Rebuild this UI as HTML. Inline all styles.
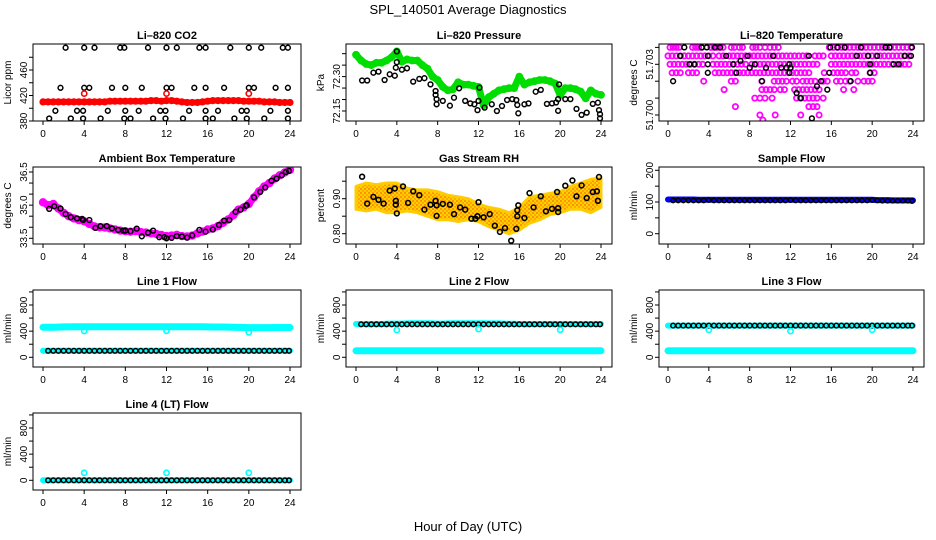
<!DOCTYPE html>
<html><head><meta charset="utf-8"><title>SPL_140501 Average Diagnostics</title>
<style>
html,body{margin:0;padding:0;background:#fff;}
svg{display:block;font-family:"Liberation Sans",Arial,sans-serif;}
</style></head>
<body>
<svg id="chart" width="936" height="540" viewBox="0 0 936 540" xmlns="http://www.w3.org/2000/svg">
<defs>
<pattern id="rhpat" width="4" height="4" patternUnits="userSpaceOnUse">
<rect width="4" height="4" fill="#ffd000"/>
<circle cx="1" cy="1" r="1" fill="#ff7f00"/>
<circle cx="3" cy="3" r="1" fill="#ff9900"/>
</pattern>
</defs>
<rect width="936" height="540" fill="#fff"/>
<text x="468" y="14" text-anchor="middle" font-size="13">SPL_140501  Average Diagnostics</text>
<text x="468" y="531" text-anchor="middle" font-size="13">Hour of Day (UTC)</text>
<g id="plots"></g>
</svg>
<script>
// ---- common time axis (half-hourly) ----
const halfHours = [0,0.5,1,1.5,2,2.5,3,3.5,4,4.5,5,5.5,6,6.5,7,7.5,8,8.5,9,9.5,10,10.5,11,11.5,12,12.5,13,13.5,14,14.5,15,15.5,16,16.5,17,17.5,18,18.5,19,19.5,20,20.5,21,21.5,22,22.5,23,23.5,24];
const blackHours = [0.5,1,1.5,2,2.5,3,3.5,4,4.5,5,5.5,6,6.5,7,7.5,8,8.5,9,9.5,10,10.5,11,11.5,12,12.5,13,13.5,14,14.5,15,15.5,16,16.5,17,17.5,18,18.5,19,19.5,20,20.5,21,21.5,22,22.5,23,23.5,23.9];
const hourTicks = [0,4,8,12,16,20,24];
const calHours = [4,12,20];
const rhHours = [0,1,2,3,4,5,6,7,8,9,10,11,12,13,14,15,16,17,18,19,20,21,22,23,24];

// ---- CO2 ----
const co2Red = [410,410,410,410,410,410,410,410,410,410,410,410,410,411,411,411,411,411,411,411,411,412,412,411,412,412,411,410,409,409,409,410,411,412,412,412,412,412,412,411,411,411,411,410,410,410,409,409,409];
const co2RedCal = [423,423,423];
const co2BlkT = [2.2,4,5,7.5,7.9,10.2,12,13,15.2,15.8,18.2,20,21.2,23.3,23.8, 1.7,4,4.5,6.7,8,9.6,12,12.5,14.7,15.8,17.6,20,20.5,22.6,23.8, 1.2,3.3,3.9,6.3,8,9.3,11.4,11.9,14.2,15.8,17,19.3,19.8,22.1,23.8, 0.6,2.7,3.9,5.6,7.9,8.5,10.7,11.9,13.6,15.8,16.5,18.6,19.8,21.5,23.8];
const co2BlkV = [495,495,495,495,495,495,495,495,495,495,495,495,495,495,495, 432,432,432,432,432,432,432,432,432,432,432,432,432,432,432, 396,396,396,396,396,396,396,396,396,396,396,396,396,396,396, 384,384,384,384,384,384,384,384,384,384,384,384,384,384,384];
const co2Ticks = [380,400,420,440,460,480];
const co2Labels = [380,420,460];

// ---- Pressure ----
const presGreen = [72.395,72.37,72.355,72.35,72.36,72.36,72.37,72.385,72.41,72.365,72.375,72.37,72.37,72.35,72.335,72.30,72.285,72.255,72.24,72.245,72.275,72.265,72.265,72.26,72.255,72.175,72.21,72.225,72.24,72.245,72.25,72.25,72.30,72.265,72.275,72.28,72.285,72.285,72.28,72.27,72.22,72.25,72.25,72.245,72.235,72.205,72.24,72.225,72.22];
const presBlkT = [0.6,1.1,1.7,2.2,2.8,3.3,3.8,3.9,4.0,4.0,4.5,5,5.6,6.2,6.7,7.3,7.8,7.8,7.9,7.9,8.5,9.2,9.6,10.1,10.7,11.2,11.6,11.9,12,12.1,12.6,13.3,13.8,14.3,14.8,15.3,15.7,15.8,15.9,16.5,16.9,17.6,18.1,18.7,19.2,19.6,19.8,19.8,19.9,20.5,21,21.6,22.1,22.6,23.2,23.7,23.8,23.9,23.9];
const presBlkV = [72.283,72.283,72.317,72.322,72.285,72.31,72.304,72.339,72.363,72.41,72.33,72.336,72.278,72.29,72.293,72.266,72.237,72.22,72.202,72.179,72.194,72.173,72.208,72.249,72.194,72.183,72.179,72.154,72.194,72.252,72.165,72.179,72.15,72.172,72.198,72.202,72.198,72.176,72.14,72.179,72.183,72.234,72.242,72.181,72.183,72.187,72.151,72.202,72.266,72.202,72.202,72.159,72.133,72.143,72.181,72.186,72.154,72.136,72.118];
const presTicks = [72.15,72.20,72.25,72.30,72.35,72.40];
const presLabels = [72.15,72.30];

// ---- Li-820 Temperature ----
const tempMagLevels = [51.704,51.7035,51.703,51.7025,51.702,51.7015,51.701,51.7005,51.700,51.6997];
const tempMagTimes = [
 [0.2,0.5,0.8,1.1,2.4,2.7,3,3.3,4.2,4.5,4.8,5.1,5.4,6.2,6.5,7,7.3,8.3,8.6,9,9.5,10,10.4,10.8,15.8,16.2,16.6,17,17.4,17.8,18.2,18.6,19,19.4,19.8,20.2,20.6,21,21.4,21.8,22.2,22.6,23,23.4,23.8],
 [0,0.4,0.8,1.2,1.6,2,2.4,2.8,3.2,3.6,4,4.4,5,5.4,6,6.4,6.8,7.2,7.6,8,8.4,8.8,9.2,9.6,10,10.4,10.8,11.2,11.6,12,12.4,12.8,13.2,13.6,14.4,14.8,15.2,16,16.4,16.8,17.2,17.6,18,18.4,18.8,19.2,19.6,20,20.4,20.8,21.2,21.6,22,22.4,22.8,23.2,23.6],
 [0.2,0.6,1,1.4,1.8,2.2,2.6,3,3.4,4.4,4.8,5.2,5.6,6,6.4,6.8,7.2,7.6,8.2,8.6,9,9.4,9.8,10.2,10.6,11,11.4,11.8,12.2,12.6,13,13.4,13.8,14.2,14.6,16,16.4,16.8,17.2,17.6,18,18.4,18.8,19.2,19.6,20,20.4,20.8,21.2,21.6,22,22.4,22.8,23.2,23.6],
 [0.4,0.8,1.2,2,2.4,2.8,4.6,5,5.4,5.8,6.2,6.6,7,7.4,7.8,8.2,8.6,9,9.4,9.8,10.2,10.6,11,11.4,11.8,12.2,12.6,13,13.4,13.8,15.3,16.2,16.6,17,17.4,18,18.4,19.8,20.2],
 [3.5,6.2,6.6,9.2,10.4,10.8,11.2,11.6,12.2,12.6,13.2,13.6,14,14.4,15.2,15.6,16.5,16.9,17.4,17.8,18.6,19.2,19.6,20],
 [5.5,9.2,9.6,10,10.4,11,11.4,12.4,12.8,13.2,13.6,14,14.4,14.8,17.2,18.2],
 [8.5,9,9.5,10.2,12.6,13,13.4,13.8,14.2,14.6,15.2],
 [6.6,13.8,14.2,14.6],
 [9,10.5,13,14.8],
 [9.3]
];
const tempBlkT = [0.5,1.2,1.6,2.1,2.6,3.3,3.8,3.9,3.9,3.9,4.6,5.1,5.7,6.4,6.7,7.1,7.8,8.0,8.5,9.2,9.6,10.3,11.1,11.6,11.9,11.9,12.0,12.6,13.0,13.8,14.1,14.6,15.0,15.6,15.8,15.9,16.6,17.3,17.9,18.5,18.9,19.6,19.8,19.8,20.5,21.3,21.7,22.1,22.6,23.2,23.8,23.9];
const tempBlkV = [51.702,51.7035,51.704,51.703,51.703,51.704,51.704,51.7035,51.703,51.7025,51.704,51.704,51.7035,51.703,51.7025,51.7032,51.7035,51.7028,51.703,51.702,51.7028,51.7035,51.7028,51.7028,51.703,51.7025,51.7028,51.7013,51.701,51.7035,51.6998,51.7017,51.702,51.7015,51.7025,51.704,51.704,51.704,51.702,51.7035,51.704,51.7035,51.703,51.7025,51.7035,51.704,51.704,51.703,51.703,51.7035,51.7035,51.704];
const tempTicks = [51.700,51.701,51.702,51.703,51.704];
const tempLabels = [51.700,51.703];

// ---- Ambient Box Temperature ----
const ambMag = [35.13,35.0,35.05,34.85,34.65,34.5,34.4,34.32,34.27,34.15,34.04,34.0,33.99,33.95,33.9,33.85,33.82,33.8,33.82,33.78,33.76,33.72,33.7,33.65,33.6,33.62,33.66,33.6,33.58,33.62,33.72,33.8,33.9,33.95,34.05,34.2,34.35,34.55,34.8,34.9,35.05,35.35,35.62,35.85,36.0,36.2,36.35,36.48,36.6];
const ambBlkT = [0.6,1.1,1.7,2.2,2.7,3.3,3.8,3.9,4.5,5.1,5.6,6.2,6.7,7.3,7.8,8,8.5,9.1,9.6,10.2,10.7,11.3,11.8,12,12.5,13,13.5,14,14.5,15.2,15.8,16.5,17.1,17.6,18.1,18.7,19.2,19.7,19.8,20.5,21.1,21.6,22.2,22.7,23.2,23.6,23.9];
const ambBlkV = [34.83,34.95,34.85,34.6,34.45,34.4,34.38,34.33,34.33,33.97,34.05,34.05,33.95,33.88,33.85,33.85,33.82,33.94,33.59,33.75,33.85,33.55,33.55,33.5,33.52,33.6,33.58,33.53,33.63,33.88,33.8,33.9,34.1,34.3,34.33,34.7,34.8,34.97,35.0,35.35,35.6,35.8,36.1,36.2,36.35,36.5,36.55];
const ambTicks = [33.5,34.0,34.5,35.0,35.5,36.0,36.5];
const ambLabels = [33.5,35.0,36.5];

// ---- Gas Stream RH ----
const rhLo = [0.87,0.865,0.87,0.86,0.86,0.865,0.86,0.85,0.84,0.84,0.835,0.84,0.835,0.82,0.81,0.80,0.81,0.83,0.84,0.855,0.86,0.87,0.87,0.86,0.875];
const rhHi = [0.935,0.945,0.94,0.945,0.945,0.93,0.925,0.925,0.92,0.91,0.905,0.9,0.885,0.875,0.87,0.86,0.875,0.905,0.91,0.915,0.92,0.935,0.945,0.955,0.96];
const rhBlkT = [0.6,1.1,1.7,2.2,2.7,3.3,3.8,3.9,3.9,4,4.6,5.1,5.6,6.2,6.7,7.3,7.8,7.9,7.9,8.5,9.2,9.6,10.2,10.7,11.3,11.7,11.9,12,12.5,13.1,13.6,14.1,14.6,15.2,15.7,15.8,15.8,15.9,16.5,17,17.4,18.1,18.6,19.2,19.7,19.8,19.8,20.5,21.2,21.6,22.1,22.6,23.2,23.6,23.7,23.8];
const rhBlkV = [0.963,0.886,0.905,0.897,0.886,0.923,0.929,0.894,0.883,0.858,0.935,0.888,0.921,0.91,0.869,0.883,0.894,0.881,0.851,0.885,0.883,0.856,0.875,0.869,0.843,0.843,0.85,0.89,0.847,0.856,0.823,0.805,0.816,0.78,0.814,0.85,0.867,0.881,0.845,0.916,0.875,0.907,0.864,0.871,0.919,0.873,0.862,0.937,0.952,0.907,0.938,0.902,0.919,0.921,0.894,0.962];
const rhTicks = [0.80,0.85,0.90,0.95];
const rhLabels = [0.80,0.90];

// ---- Sample Flow ----
const sampleBlue = [108,108,108,108,108,108,107,107,107,107,107,107,107,107,107,107,107,107,107,107,107,107,107,107,107,107,107,107,107,107,107,107,107,107,107,107,107,107,107,107,107,106,106,106,105,105,105,105,105];
const sampleBlk = [105,105,105,105,105,105,105,106,105,105,105,105,105,105,105,105,105,105,105,105,105,105,105,106,105,105,105,105,105,105,105,105,105,105,105,105,105,105,105,106,105,104,104,104,104,104,104,103];
const sampleTicks = [0,50,100,150,200];
const sampleLabels = [0,100,200];

// ---- Line flows ----
const flowTicks = [0,200,400,600,800,1000];
const flowLabels = [0,400,800];
const line1CyanHi = [460,460,460,462,465,465,466,466,466,466,466,466,466,466,466,466,467,467,467,467,467,467,467,467,467,467,467,467,467,467,467,467,465,464,464,464,462,460,458,456,455,455,455,455,455,456,456,456,456];
const line1CyanLo = [100,100,100,100,100,100,100,100,100,100,100,100,100,100,100,100,100,100,100,100,100,100,100,100,100,100,100,100,100,100,100,100,100,100,100,100,100,100,100,100,100,100,100,100,100,100,100,100,100];
const line1Blk = [100,100,100,100,100,100,100,100,100,100,100,100,100,100,100,100,100,100,100,100,100,100,100,100,100,100,100,100,100,100,100,100,100,100,100,100,100,100,100,100,100,100,100,100,100,100,100,100];
const line1Cal = [403,405,382];
const line2CyanHi = [510,508,508,508,510,510,512,515,515,515,518,520,520,520,520,518,515,515,518,520,520,520,520,520,520,520,518,518,518,515,512,512,510,510,510,510,510,510,510,510,510,510,510,510,510,510,510,510,510];
const line2CyanLo = [100,100,100,100,100,100,100,100,100,100,100,100,100,100,100,100,100,100,100,100,100,100,100,100,100,100,100,100,100,100,100,100,100,100,100,100,100,100,100,100,100,100,100,100,100,100,100,100,100];
const line2Blk = [505,505,505,505,505,505,505,505,505,505,505,505,505,505,505,505,505,505,505,505,505,505,505,505,505,505,505,505,505,505,505,505,505,505,505,505,505,505,505,505,505,505,505,505,505,505,505,505];
const line2Cal = [418,432,420];
const line3CyanHi = [485,485,485,485,485,485,485,485,485,485,485,485,485,485,485,485,485,485,485,485,485,485,485,485,485,485,485,485,485,485,485,485,485,485,485,485,485,485,485,485,485,485,485,485,485,485,485,485,485];
const line3CyanLo = [100,100,100,100,100,100,100,100,100,100,100,100,100,100,100,100,100,100,100,100,100,100,100,100,100,100,100,100,100,100,100,100,100,100,100,100,100,100,100,100,100,100,100,100,100,100,100,100,100];
const line3Blk = [485,485,485,485,485,485,485,485,485,485,485,485,485,485,485,485,485,485,485,485,485,485,485,485,485,485,485,485,485,485,485,485,485,485,485,485,485,485,485,485,485,485,485,485,485,485,485,485];
const line3Cal = [420,400,420];
const line4Cyan = [0,0,0,0,0,0,0,0,0,0,0,0,0,0,0,0,0,0,0,0,0,0,0,0,0,0,0,0,0,0,0,0,0,0,0,0,0,0,0,0,0,0,0,0,0,0,0,0,0];
const line4Blk = [0,0,0,0,0,0,0,0,0,0,0,0,0,0,0,0,0,0,0,0,0,0,0,0,0,0,0,0,0,0,0,0,0,0,0,0,0,0,0,0,0,0,0,0,0,0,0,0];
const line4Cal = [114,114,114];

// ---- layout ----
const NS = 'http://www.w3.org/2000/svg';
const cols = [{l:33,r:301,x0:43,x24:290},{l:346,r:612,x0:356,x24:601},{l:659,r:924,x0:668,x24:913}];
const rowTop = [44,167,290,413];
const boxH = 77;
const root = document.getElementById('plots');

function el(tag, attrs, parent){
  const e = document.createElementNS(NS, tag);
  for (const k in attrs) e.setAttribute(k, attrs[k]);
  (parent||root).appendChild(e);
  return e;
}

function makePanel(ci, ri, title, ylab, va, ya, vb, yb, ticks, labels, fmt, slug){
  const c = cols[ci];
  const top = rowTop[ri], bot = top + boxH;
  const g = el('g', {});
  
  
  const xs = h => c.x0 + h * (c.x24 - c.x0) / 24;
  const ys = v => ya + (v - va) * (yb - ya) / (vb - va);
  const box = el('rect', {x:c.l, y:top, width:c.r-c.l, height:boxH, fill:'none', stroke:'#000', 'stroke-width':1}, g);
  
  
  const t = el('text', {x:(c.l+c.r)/2, y:top-5, 'text-anchor':'middle', 'font-size':11, 'font-weight':'bold'}, g);
  t.textContent = title;
  
  
  const yl = el('text', {x:0, y:0, 'text-anchor':'middle', 'font-size':10, transform:'translate('+(c.l-22)+','+((top+bot)/2)+') rotate(-90)'}, g);
  yl.textContent = ylab;
  
  
  const xa = el('g', {}, g);
  
  
  el('line', {x1:xs(hourTicks[0]), x2:xs(hourTicks[hourTicks.length-1]), y1:bot, y2:bot, stroke:'#000'}, xa);
  hourTicks.forEach(h => {
    el('line', {x1:xs(h), x2:xs(h), y1:bot, y2:bot+4, stroke:'#000'}, xa);
    const tl = el('text', {x:xs(h), y:bot+16, 'text-anchor':'middle', 'font-size':10}, xa);
    tl.textContent = h;
    
    
  });
  const ya_ = el('g', {}, g);
  
  
  el('line', {x1:c.l, x2:c.l, y1:ys(ticks[0]), y2:ys(ticks[ticks.length-1]), stroke:'#000'}, ya_);
  ticks.forEach(v => el('line', {x1:c.l-4, x2:c.l, y1:ys(v), y2:ys(v), stroke:'#000'}, ya_));
  labels.forEach(v => {
    const tl = el('text', {x:0, y:0, 'text-anchor':'middle', 'font-size':10, transform:'translate('+(c.l-6)+','+ys(v)+') rotate(-90)'}, ya_);
    tl.textContent = fmt(v);
    
    
  });
  const clipId = 'clip-' + slug;
  const cp = el('clipPath', {id:clipId}, g);
  el('rect', {x:c.l+0.5, y:top+0.5, width:c.r-c.l-1, height:boxH-1}, cp);
  const data = el('g', {'clip-path':'url(#'+clipId+')'}, g);
  
  
  return {g:data, xs, ys};
}

function points(p, ts, vs, color, r, sw, name){
  const grp = el('g', {fill:'none', stroke:color, 'stroke-width':sw}, p.g);
  
  
  const n = Math.min(ts.length, vs.length);
  for (let i = 0; i < n; i++) {
    const c = el('circle', {cx:p.xs(ts[i]).toFixed(1), cy:p.ys(vs[i]).toFixed(1), r:r}, grp);
    
    
  }
}

// dense band drawn through the same data (many overlapping samples)
function band(p, ts, vs, color, w, name){
  const n = Math.min(ts.length, vs.length);
  let pts = '';
  for (let i = 0; i < n; i++) pts += p.xs(ts[i]).toFixed(1) + ',' + p.ys(vs[i]).toFixed(1) + ' ';
  const pl = el('polyline', {points:pts, fill:'none', stroke:color, 'stroke-width':w, 'stroke-linejoin':'round', 'stroke-linecap':'round'}, p.g);
  
  
}

const f0 = v => String(v);
const f1 = v => v.toFixed(1);
const f2 = v => v.toFixed(2);
const f3 = v => v.toFixed(3);

// CO2
let p = makePanel(0,0,'Li\u2013820 CO2','Licor ppm',380,121,460,70,co2Ticks,co2Labels,f0,'co2');
points(p, co2BlkT, co2BlkV, '#000', 2.4, 1.5, 'co2-black-series');
band(p, halfHours, co2Red, '#ff0000', 6, 'co2-red-band');
points(p, halfHours, co2Red, '#ff0000', 2.6, 2, 'co2-red-series');
points(p, calHours, co2RedCal, '#ff0000', 2.6, 1.6, 'co2-red-cal');

// Pressure
p = makePanel(1,0,'Li\u2013820 Pressure','kPa',72.15,111,72.30,76.6,presTicks,presLabels,f2,'pressure');
band(p, halfHours, presGreen, '#00dd00', 7, 'pressure-green-band');
points(p, halfHours, presGreen, '#00dd00', 2.8, 2.2, 'pressure-green-series');
points(p, presBlkT, presBlkV, '#000', 2.4, 1.5, 'pressure-black-series');

// Temperature
p = makePanel(2,0,'Li\u2013820 Temperature','degrees C',51.700,115,51.703,64.3,tempTicks,tempLabels,f3,'li820-temp');
tempMagLevels.forEach((lv, i) => {
  const ts = tempMagTimes[i];
  points(p, ts, ts.map(() => lv), '#ff00ff', 2.6, 1.8, 'temp-magenta-level');
});
points(p, tempBlkT, tempBlkV, '#000', 2.4, 1.5, 'temp-black-series');

// Ambient
p = makePanel(0,1,'Ambient Box Temperature','degrees C',33.5,238.3,36.5,172,ambTicks,ambLabels,f1,'ambient-temp');
band(p, halfHours, ambMag, '#ff00ff', 7, 'ambient-magenta-band');
points(p, halfHours, ambMag, '#ff00ff', 3, 2.4, 'ambient-magenta-series');
points(p, ambBlkT, ambBlkV, '#000', 2.4, 1.5, 'ambient-black-series');

// RH
p = makePanel(1,1,'Gas Stream RH','percent',0.80,233.7,0.90,198.7,rhTicks,rhLabels,f2,'rh');
{
  let d = '';
  rhHours.forEach((h,i) => { d += (i ? 'L' : 'M') + p.xs(h).toFixed(1) + ',' + p.ys(rhHi[i]).toFixed(1); });
  for (let i = rhHours.length-1; i >= 0; i--) d += 'L' + p.xs(rhHours[i]).toFixed(1) + ',' + p.ys(rhLo[i]).toFixed(1);
  const bd = el('path', {d:d+'Z', fill:'url(#rhpat)', stroke:'#ffcc00', 'stroke-width':3, 'stroke-linejoin':'round'}, p.g);
  
  
}
points(p, rhBlkT, rhBlkV, '#000', 2.4, 1.6, 'rh-black-series');

// Sample Flow
p = makePanel(2,1,'Sample Flow','ml/min',0,233.7,200,170.3,sampleTicks,sampleLabels,f0,'sample-flow');
band(p, halfHours, sampleBlue, '#0000ff', 6, 'sample-blue-band');
points(p, blackHours, sampleBlk, '#000', 2.2, 1.5, 'sample-black-series');

// Line 1
p = makePanel(0,2,'Line 1 Flow','ml/min',0,357.3,800,305,flowTicks,flowLabels,f0,'line1-flow');
band(p, halfHours, line1CyanHi, '#00ffff', 7, 'line1-cyan-high');
band(p, halfHours, line1CyanLo, '#00ffff', 6, 'line1-cyan-low');
points(p, blackHours, line1Blk, '#000', 2.3, 1.5, 'line1-black-series');
points(p, calHours, line1Cal, '#00ffff', 2.6, 1.6, 'line1-cyan-cal');

// Line 2
p = makePanel(1,2,'Line 2 Flow','ml/min',0,357.3,800,305,flowTicks,flowLabels,f0,'line2-flow');
band(p, halfHours, line2CyanHi, '#00ffff', 6, 'line2-cyan-high');
band(p, halfHours, line2CyanLo, '#00ffff', 7, 'line2-cyan-low');
points(p, blackHours, line2Blk, '#000', 2.3, 1.5, 'line2-black-series');
points(p, calHours, line2Cal, '#00ffff', 2.6, 1.6, 'line2-cyan-cal');

// Line 3
p = makePanel(2,2,'Line 3 Flow','ml/min',0,357.3,800,305,flowTicks,flowLabels,f0,'line3-flow');
band(p, halfHours, line3CyanHi, '#00ffff', 6, 'line3-cyan-high');
band(p, halfHours, line3CyanLo, '#00ffff', 7, 'line3-cyan-low');
points(p, blackHours, line3Blk, '#000', 2.3, 1.5, 'line3-black-series');
points(p, calHours, line3Cal, '#00ffff', 2.6, 1.6, 'line3-cyan-cal');

// Line 4
p = makePanel(0,3,'Line 4 (LT) Flow','ml/min',0,480.3,800,428,flowTicks,flowLabels,f0,'line4-flow');
band(p, halfHours, line4Cyan, '#00ffff', 6, 'line4-cyan-series');
points(p, blackHours, line4Blk, '#000', 2.3, 1.5, 'line4-black-series');
points(p, calHours, line4Cal, '#00ffff', 2.6, 1.6, 'line4-cyan-cal');
</script>
</body></html>
